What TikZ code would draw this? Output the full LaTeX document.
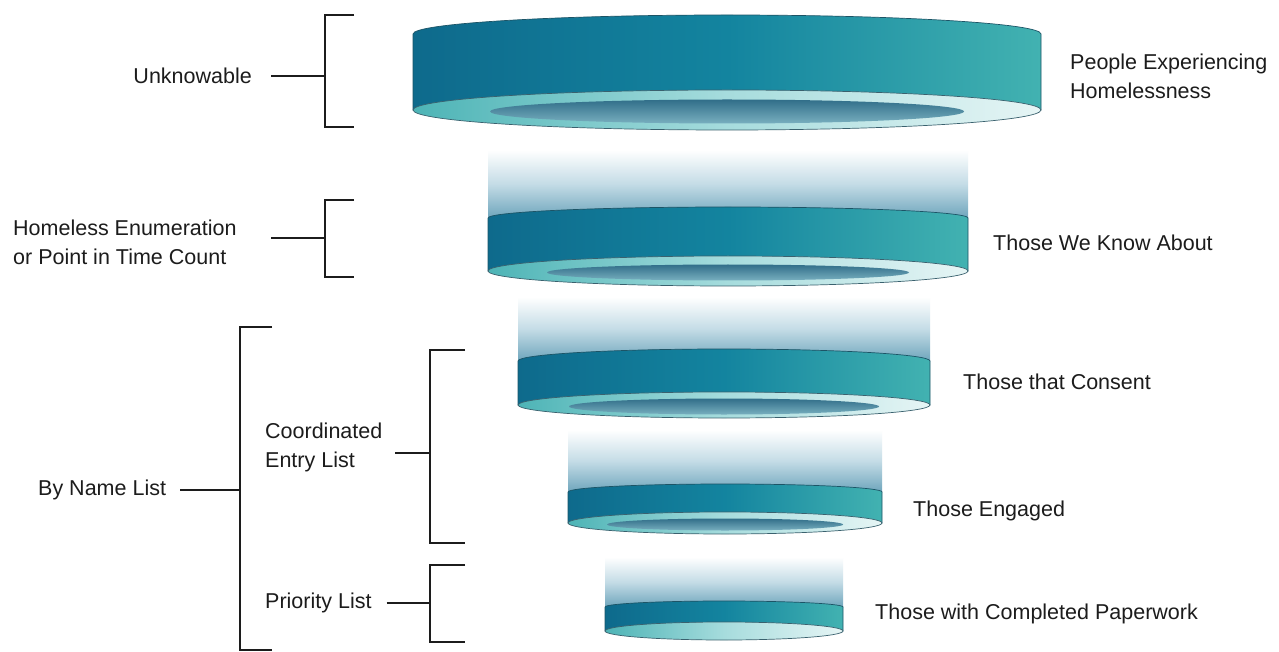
\documentclass[tikz,border=0pt]{standalone}
\usepackage{fontspec}
\setmainfont{Liberation Sans}
\definecolor{bandL}{HTML}{0E6A8C}
\definecolor{bandM}{HTML}{13849F}
\definecolor{bandR}{HTML}{42B2B1}
\definecolor{bandedge}{HTML}{1C5466}
\definecolor{faceL}{HTML}{4DB4B6}
\definecolor{faceM}{HTML}{A6DCDD}
\definecolor{faceR}{HTML}{E6F5F5}
\definecolor{holeT}{HTML}{316E89}
\definecolor{holeB}{HTML}{78AFBF}
\definecolor{fadeB}{HTML}{6EA5BC}
\definecolor{fadeM}{HTML}{C4DCE6}
\definecolor{ink}{HTML}{1C1C1C}
\begin{document}
\begin{tikzpicture}[x=1pt,y=1pt,
  lbl/.style={font=\fontsize{21.5}{29}\selectfont, text=ink, inner sep=0pt, align=left},
  br/.style={draw=ink, line width=2.7pt},
  band/.style={left color=bandL, right color=bandR, middle color=bandM, draw=bandedge, line width=0.7pt},
  face/.style={left color=faceL, right color=faceR, middle color=faceM, draw=bandedge!70!gray, line width=0.7pt},
  hole/.style={top color=holeT, bottom color=holeB},
  fade/.style={top color=white, bottom color=fadeB, middle color=fadeM}]
\useasboundingbox (0,0) rectangle (1279,-652);
\fill[white] (0,0) rectangle (1279,-652);

% discs
\foreach \cx/\rx/\yt/\ryt/\yb/\ryb/\hrx/\hry/\ft in {
  727/314/34/19/110/20/237/12/34,
  728/240/218/11/271/15/181/8/150,
  724/206/361/12/405/13/155/8/297,
  725/157/492/8/523/11/118/6/430,
  724/119/607/6/631/9/0/0/557}
{
  \ifnum\ft<\yt
    \path[fade] ({\cx-\rx},{-\ft}) rectangle ({\cx+\rx},{-\yt});
  \fi
  \path[band] ({\cx-\rx},{-\yb}) -- ({\cx-\rx},{-\yt})
     arc[start angle=180, end angle=0, x radius=\rx, y radius=\ryt]
     -- ({\cx+\rx},{-\yb}) -- cycle;
  \path[face] (\cx,{-\yb}) ellipse[x radius=\rx, y radius=\ryb];
  \ifnum\hrx>0
    \path[hole] (\cx,{-\yb-1.5}) ellipse[x radius=\hrx, y radius=\hry];
  \fi
}

% right labels
\node[lbl, anchor=west] (r1) at (1070,-76) {People Experiencing\\Homelessness};
\node[lbl, anchor=west] (r2) at (993,-243) {Those We Know About};
\node[lbl, anchor=west] (r3) at (963,-382) {Those that Consent};
\node[lbl, anchor=west] (r4) at (913,-511) {Those Engaged};
\node[lbl, anchor=west] (r5) at (875,-614) {Those with Completed Paperwork};

% left labels
\node[lbl, anchor=east] (unk) at (252,-76) {Unknowable};
\node[lbl, anchor=west] (pit) at (13,-242) {Homeless Enumeration\\or Point in Time Count};
\node[lbl, anchor=west] (bnl) at (38,-490) {By Name List};
\node[lbl, anchor=west] (cel) at (265,-447) {Coordinated\\Entry List};
\node[lbl, anchor=west] (pri) at (265,-603) {Priority List};

% bracket coordinates
\coordinate (b1m) at (325,-76);
\coordinate (b2m) at (325,-238);
\coordinate (b3m) at (240,-490);
\coordinate (b4m) at (430,-453);
\coordinate (b5m) at (430,-603);

% brackets
\draw[br] (354,-15) -- (325,-15) -- (325,-127) -- (354,-127);
\draw[br] (354,-200) -- (325,-200) -- (325,-277) -- (354,-277);
\draw[br] (272,-327) -- (240,-327) -- (240,-650) -- (272,-650);
\draw[br] (465,-350) -- (430,-350) -- (430,-543) -- (465,-543);
\draw[br] (465,-565) -- (430,-565) -- (430,-642) -- (465,-642);

% stems
\draw[br] ([xshift=19pt]unk.east) -- (b1m);
\draw[br] (271,-238) -- (b2m);
\draw[br] ([xshift=14pt]bnl.east) -- (b3m);
\draw[br] (395,-453) -- (b4m);
\draw[br] ([xshift=15pt]pri.east) -- (b5m);
\end{tikzpicture}
\end{document}
